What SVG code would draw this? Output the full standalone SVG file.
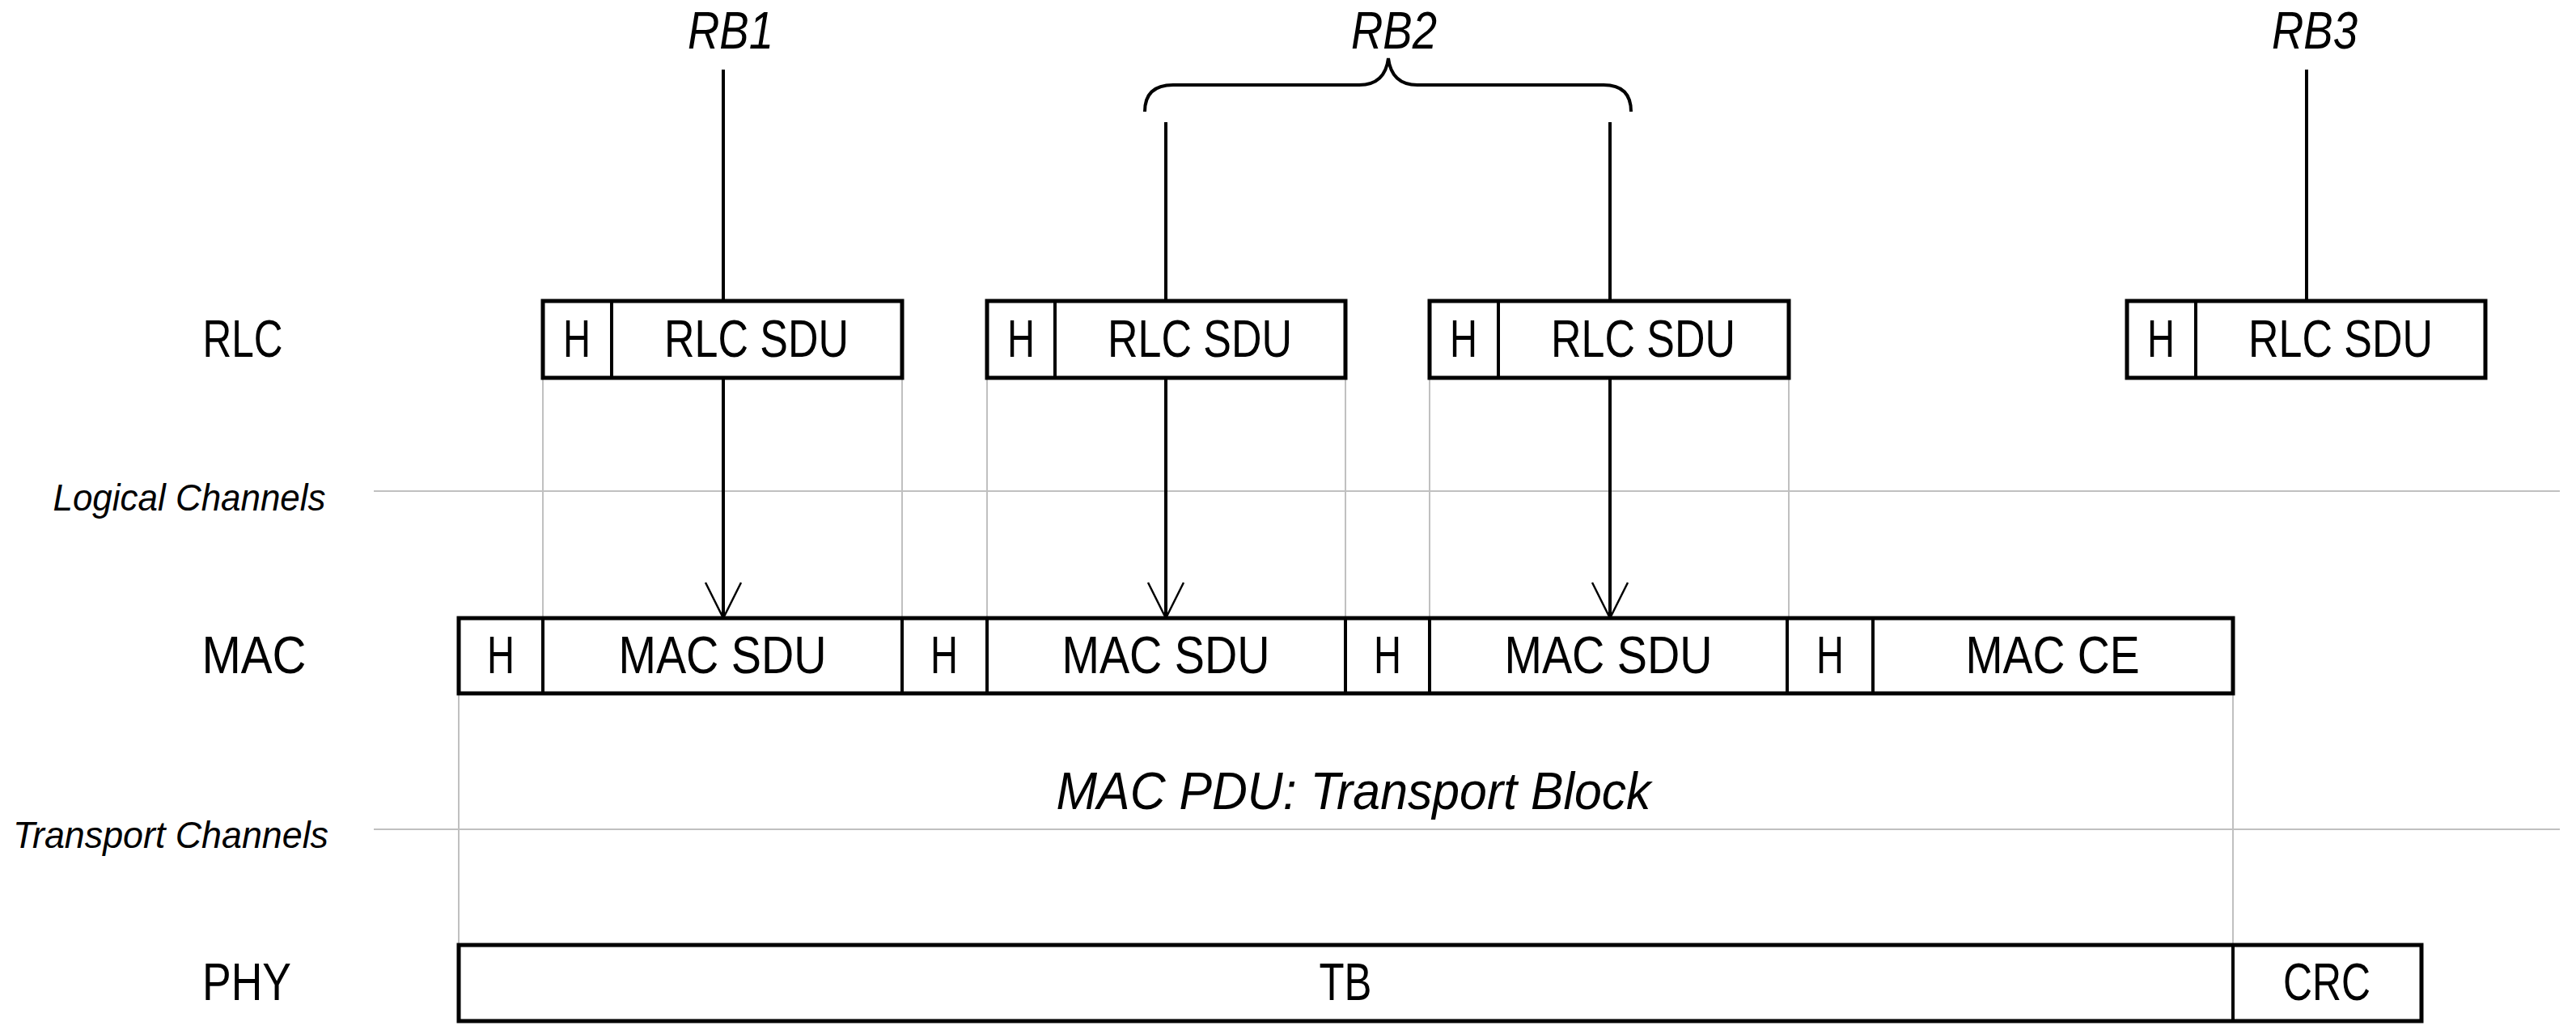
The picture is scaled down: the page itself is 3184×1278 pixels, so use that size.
<svg xmlns="http://www.w3.org/2000/svg" width="3184" height="1278" viewBox="0 0 3184 1278">
<style>
text{font-family:"Liberation Sans",Arial,sans-serif;font-size:64px;fill:#000;text-anchor:middle}
.it{font-style:italic}
.sm{font-size:46px}
.box{fill:#fff;stroke:#000;stroke-width:5}
.div{stroke:#000;stroke-width:4}
.g{stroke:#c0c0c0;stroke-width:2;fill:none}
.c{stroke:#000;stroke-width:4;fill:none}
</style>
<defs>
<marker id="ah" markerUnits="userSpaceOnUse" markerWidth="50" markerHeight="50" refX="46" refY="23" orient="auto">
<path d="M2,1 L46,23 L2,45" fill="none" stroke="#000" stroke-width="2.5"/>
</marker>
</defs>
<g id="guides">
<line class="g" x1="462" y1="607" x2="3164" y2="607"/>
<line class="g" x1="462" y1="1025" x2="3164" y2="1025"/>
<line class="g" x1="671" y1="467" x2="671" y2="764"/>
<line class="g" x1="1115" y1="467" x2="1115" y2="764"/>
<line class="g" x1="1220" y1="467" x2="1220" y2="764"/>
<line class="g" x1="1663" y1="467" x2="1663" y2="764"/>
<line class="g" x1="1767" y1="467" x2="1767" y2="764"/>
<line class="g" x1="2211" y1="467" x2="2211" y2="764"/>
<line class="g" x1="567" y1="857" x2="567" y2="1168"/>
<line class="g" x1="2760" y1="857" x2="2760" y2="1168"/>
</g>
<g id="labels">
<text x="300" y="441" textLength="99" lengthAdjust="spacingAndGlyphs">RLC</text>
<text x="314" y="832" textLength="129" lengthAdjust="spacingAndGlyphs">MAC</text>
<text x="305" y="1236" textLength="110" lengthAdjust="spacingAndGlyphs">PHY</text>
<text class="it sm" x="234" y="631" textLength="337" lengthAdjust="spacingAndGlyphs">Logical Channels</text>
<text class="it sm" x="211" y="1048" textLength="390" lengthAdjust="spacingAndGlyphs">Transport Channels</text>
<text class="it" x="1673" y="1000" textLength="735" lengthAdjust="spacingAndGlyphs">MAC PDU: Transport Block</text>
<text class="it" x="903" y="60" textLength="106" lengthAdjust="spacingAndGlyphs">RB1</text>
<text class="it" x="1723" y="60" textLength="106" lengthAdjust="spacingAndGlyphs">RB2</text>
<text class="it" x="2861" y="60" textLength="106" lengthAdjust="spacingAndGlyphs">RB3</text>
</g>
<g id="connectors">
<line class="c" x1="894" y1="86" x2="894" y2="372"/>
<line class="c" x1="1441" y1="151" x2="1441" y2="372"/>
<line class="c" x1="1990" y1="151" x2="1990" y2="372"/>
<line class="c" x1="2851" y1="86" x2="2851" y2="372"/>
<line class="c" x1="894" y1="467" x2="894" y2="764" marker-end="url(#ah)"/>
<line class="c" x1="1441" y1="467" x2="1441" y2="764" marker-end="url(#ah)"/>
<line class="c" x1="1990" y1="467" x2="1990" y2="764" marker-end="url(#ah)"/>
<path class="c" d="M1415,138 Q1415,105 1450,105 L1680,105 Q1712,105 1716,72 Q1720,105 1752,105 L1982,105 Q2016,105 2016,138"/>
</g>
<g id="rlc1"><rect class="box" x="671" y="372" width="444" height="95"/><line class="div" x1="756" y1="372" x2="756" y2="467"/>
<text x="713" y="441" textLength="34" lengthAdjust="spacingAndGlyphs">H</text><text x="935" y="441" textLength="228" lengthAdjust="spacingAndGlyphs">RLC SDU</text></g>
<g id="rlc2"><rect class="box" x="1220" y="372" width="443" height="95"/><line class="div" x1="1304" y1="372" x2="1304" y2="467"/>
<text x="1262" y="441" textLength="34" lengthAdjust="spacingAndGlyphs">H</text><text x="1483" y="441" textLength="228" lengthAdjust="spacingAndGlyphs">RLC SDU</text></g>
<g id="rlc3"><rect class="box" x="1767" y="372" width="444" height="95"/><line class="div" x1="1852" y1="372" x2="1852" y2="467"/>
<text x="1809" y="441" textLength="34" lengthAdjust="spacingAndGlyphs">H</text><text x="2031" y="441" textLength="228" lengthAdjust="spacingAndGlyphs">RLC SDU</text></g>
<g id="rlc4"><rect class="box" x="2629" y="372" width="443" height="95"/><line class="div" x1="2714" y1="372" x2="2714" y2="467"/>
<text x="2671" y="441" textLength="34" lengthAdjust="spacingAndGlyphs">H</text><text x="2893" y="441" textLength="228" lengthAdjust="spacingAndGlyphs">RLC SDU</text></g>
<g id="mac">
<rect class="box" x="567" y="764" width="2193" height="93"/>
<line class="div" x1="671" y1="764" x2="671" y2="857"/>
<line class="div" x1="1115" y1="764" x2="1115" y2="857"/>
<line class="div" x1="1220" y1="764" x2="1220" y2="857"/>
<line class="div" x1="1663" y1="764" x2="1663" y2="857"/>
<line class="div" x1="1767" y1="764" x2="1767" y2="857"/>
<line class="div" x1="2209" y1="764" x2="2209" y2="857"/>
<line class="div" x1="2315" y1="764" x2="2315" y2="857"/>
<text x="619" y="832" textLength="34" lengthAdjust="spacingAndGlyphs">H</text>
<text x="893" y="832" textLength="257" lengthAdjust="spacingAndGlyphs">MAC SDU</text>
<text x="1167" y="832" textLength="34" lengthAdjust="spacingAndGlyphs">H</text>
<text x="1441" y="832" textLength="257" lengthAdjust="spacingAndGlyphs">MAC SDU</text>
<text x="1715" y="832" textLength="34" lengthAdjust="spacingAndGlyphs">H</text>
<text x="1988" y="832" textLength="257" lengthAdjust="spacingAndGlyphs">MAC SDU</text>
<text x="2262" y="832" textLength="34" lengthAdjust="spacingAndGlyphs">H</text>
<text x="2537" y="832" textLength="215" lengthAdjust="spacingAndGlyphs">MAC CE</text>
</g>
<g id="phy">
<rect class="box" x="567" y="1168" width="2426" height="94"/>
<line class="div" x1="2760" y1="1168" x2="2760" y2="1262"/>
<text x="1663" y="1236" textLength="65" lengthAdjust="spacingAndGlyphs">TB</text>
<text x="2876" y="1236" textLength="108" lengthAdjust="spacingAndGlyphs">CRC</text>
</g>
</svg>
